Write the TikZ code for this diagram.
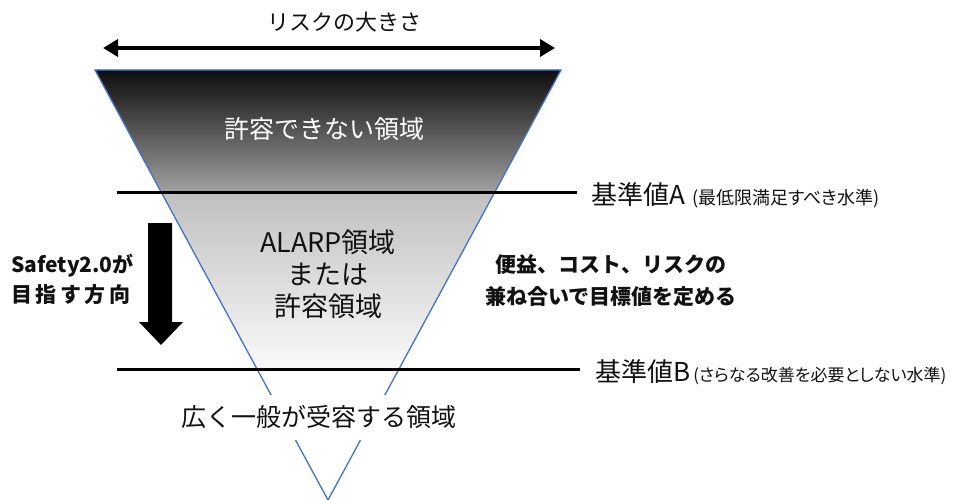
\documentclass[tikz,border=0pt]{standalone}
\usepackage{fontspec}
\setmainfont{Noto Sans CJK JP}
\newfontfamily\paltfont[RawFeature=+palt]{Noto Sans CJK JP}
\usetikzlibrary{arrows.meta}
\definecolor{edgeblue}{HTML}{4472C4}
\definecolor{txt}{HTML}{111111}
\tikzset{
  refline/.style={line width=3pt, draw=black},
  lbl/.style={inner sep=0pt, text=txt, align=center},
  big/.style={font=\fontsize{25}{31}\selectfont},
}
\begin{document}
\begin{tikzpicture}[x=1pt,y=-1pt]
\useasboundingbox (0,0) rectangle (955,500);
% triangle geometry
\coordinate (tl) at (95,70);
\coordinate (tr) at (561,70);
\coordinate (apex) at (328,500);
\coordinate (al) at (161.1,192);
\coordinate (ar) at (494.9,192);
\coordinate (bl) at (257,369);
\coordinate (br) at (399,369);
% top region
\shade[top color=black!95, bottom color=black!37] (tl) -- (tr) -- (ar) -- (al) -- cycle;
% middle region
\shade[top color=black!25, bottom color=black!2] (al) -- (ar) -- (br) -- (bl) -- cycle;
% outline
\draw[edgeblue, line width=1.3pt, line join=miter] (tl) -- (tr) -- (apex) -- cycle;
% size arrow
\coordinate (sl) at (103,48);
\coordinate (sr) at (555,48);
\draw[line width=4pt, {Triangle[length=15pt,width=17pt]}-{Triangle[length=15pt,width=17pt]}] (sl) -- (sr);
\node[lbl, font=\fontsize{22}{26}\selectfont] (size) at (344,22) {リスクの大きさ};
% reference lines
\coordinate (la1) at (117,192);
\coordinate (la2) at (577,192);
\coordinate (lb1) at (117,369);
\coordinate (lb2) at (580,369);
\draw[refline] (la1) -- (la2);
\draw[refline] (lb1) -- (lb2);
\node[lbl, anchor=base west] (refA) at (591,204) {{\fontsize{26}{30}\selectfont 基準値A}\hspace{7pt}{\paltfont\fontsize{18}{20}\selectfont (最低限満足すべき水準)}};
\node[lbl, anchor=base west] (refB) at (595,381) {{\fontsize{26}{30}\selectfont 基準値B}\hspace{3pt}{\paltfont\fontsize{17}{20}\selectfont (さらなる改善を必要としない水準)}};
% region labels
\node[lbl, big, text=white] (unacc) at (324,129) {許容できない領域};
\node[lbl, big, font=\fontsize{27}{32}\selectfont] (alarp) at (328,274) {ALARP領域\\または\\許容領域};
\node[lbl, big, fill=white, minimum width=282pt, minimum height=45pt] (broad) at (319,417) {広く一般が受容する領域};
% right note
\node[lbl, font=\bfseries\fontsize{21}{32}\selectfont] (note) at (611,281) {便益、コスト、リスクの\\兼ね合いで目標値を定める};
% safety direction
\node[lbl, anchor=west, align=left, font=\bfseries\fontsize{21}{30}\selectfont] (safety) at (11,279) {Safety2.0が\\目\,指\,す\,方\,向};
\fill[black] (148,223) -- (172,223) -- (172,322) -- (183,322) -- (161,345) -- (139,322) -- (148,322) -- cycle;
\end{tikzpicture}
\end{document}
